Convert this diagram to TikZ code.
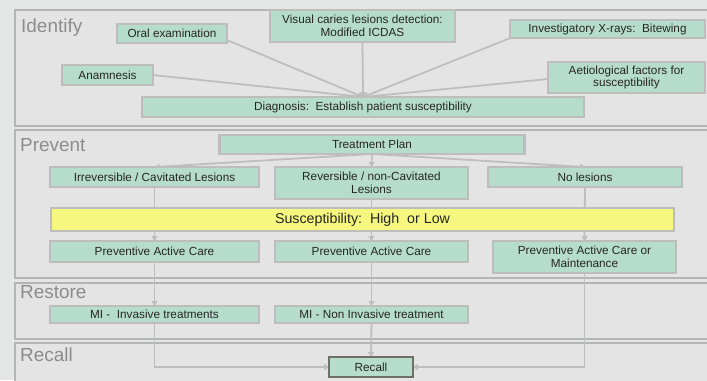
\documentclass[tikz,border=0pt]{standalone}
\usepackage{fontspec}
\setmainfont{Liberation Sans}
\usetikzlibrary{arrows.meta,calc}
\definecolor{pagebg}{HTML}{E2E6E5}
\definecolor{panelfill}{HTML}{E4E4E4}
\definecolor{panelline}{HTML}{B4B4B4}
\definecolor{boxfill}{HTML}{B6DCCB}
\definecolor{boxline}{HTML}{BDBDBD}
\definecolor{linkgray}{HTML}{BEBEBE}
\definecolor{titlegray}{HTML}{8C8C8C}
\definecolor{hiyellow}{HTML}{F6F77E}
\definecolor{recallline}{HTML}{6E7068}
\pgfdeclarelayer{background}
\pgfdeclarelayer{links}
\pgfsetlayers{background,links,main}
\tikzset{
  panel/.style={draw=panelline, line width=1.6bp, fill=panelfill},
  paneltitle/.style={anchor=base west, inner sep=0pt, text=titlegray,
    font=\fontsize{19}{21}\selectfont},
  gbox/.style={draw=boxline, line width=2.2bp, fill=boxfill, inner sep=0pt,
    outer sep=0pt, align=center, text=black!85,
    font=\fontsize{11.8}{12.8}\selectfont},
  ybox/.style={gbox, fill=hiyellow, font=\fontsize{14.3}{16}\selectfont},
  rbox/.style={gbox, draw=recallline, line width=2.6bp},
  link/.style={draw=linkgray, line width=1.8bp,
    -{Triangle[length=5bp,width=6bp]}},
}
\begin{document}
\begin{tikzpicture}[x=1bp,y=-1bp]
\useasboundingbox (0,0) rectangle (707,380);

% page and stage panels
\begin{pgfonlayer}{background}
  \fill[pagebg] (0,0) rectangle (707,380);
  \path[panel] (15,10)  rectangle (712,126);
  \path[panel] (15,130) rectangle (712,278);
  \path[panel] (15,283) rectangle (712,339);
  \path[panel] (15,343) rectangle (712,390);
\end{pgfonlayer}

\node[paneltitle] (tid) at (21,32)  {Identify};
\node[paneltitle] (tpr) at (20,151) {Prevent};
\node[paneltitle] (tre) at (20,298) {Restore};
\node[paneltitle] (trc) at (20,361) {Recall};

% Identify
\node[gbox, minimum width=110, minimum height=19] (oral) at (172,33.5) {Oral examination};
\node[gbox, minimum width=185, minimum height=32] (visual) at (362.5,26)
  {Visual caries lesions detection:\\Modified ICDAS};
\node[gbox, minimum width=195, minimum height=18] (xray) at (607.5,29)
  {Investigatory X-rays:\ \ Bitewing};
\node[gbox, minimum width=91, minimum height=20] (anam) at (107.5,75) {Anamnesis};
\node[gbox, minimum width=157, minimum height=31] (aetio) at (626.5,77.5)
  {Aetiological factors for\\susceptibility};
\node[gbox, minimum width=444, minimum height=20] (diag) at (363,107)
  {Diagnosis:\ \ Establish patient susceptibility};

% Prevent
\node[gbox, minimum width=306, minimum height=19] (plan) at (372,144.5) {Treatment Plan};
\node[gbox, minimum width=209, minimum height=20] (irr) at (154.5,177)
  {Irreversible / Cavitated Lesions};
\node[gbox, minimum width=193, minimum height=32] (rev) at (371.5,183)
  {Reversible / non-Cavitated\\Lesions};
\node[gbox, minimum width=194, minimum height=20] (nol) at (585,177) {No lesions};
\node[ybox, minimum width=625, minimum height=23] (susc) at (362.5,219.5)
  {Susceptibility:\ \ High\ \ or Low};
\node[gbox, minimum width=209, minimum height=21] (pac1) at (154.5,251.5)
  {Preventive Active Care};
\node[gbox, minimum width=193, minimum height=21] (pac2) at (371.5,251.5)
  {Preventive Active Care};
\node[gbox, minimum width=183, minimum height=32] (pacm) at (584.5,257)
  {Preventive Active Care or\\Maintenance};

% Restore
\node[gbox, minimum width=209, minimum height=17] (mi1) at (154.5,314.5)
  {MI -\ \ Invasive treatments};
\node[gbox, minimum width=193, minimum height=17] (mi2) at (371.5,314.5)
  {MI - Non Invasive treatment};

% Recall
\node[rbox, minimum width=84, minimum height=20] (recall) at (371,367) {Recall};

\begin{pgfonlayer}{links}
  % findings feeding the diagnosis
  \draw[link] ([yshift=3bp]oral.south east) -- (diag.north);
  \draw[link] (anam.east) -- (diag.north);
  \draw[link] (visual.south) -- (diag.north);
  \draw[link] (xray.south west) -- (diag.north);
  \draw[link] ([yshift=-1.5bp]aetio.west) -- (diag.north);
  % treatment plan branches
  \draw[link] (plan.south) -- (irr.north);
  \draw[link] (plan.south) -- (rev.north);
  \draw[link] (plan.south) -- (nol.north);
  % left column
  \draw[link] (irr.south) -- (pac1.north);
  \draw[link] (pac1.south) -- (mi1.north);
  \draw[link] (mi1.south) |- (recall.west);
  % middle column
  \draw[link] (rev.south) -- (pac2.north);
  \draw[link] (pac2.south) -- (mi2.north);
  \draw[link] (mi2.south) -- (recall.north);
  % right column
  \draw[link] (nol.south) -- (pacm.north);
  \draw[link] (pacm.south) |- (recall.east);
\end{pgfonlayer}
\end{tikzpicture}
\end{document}
